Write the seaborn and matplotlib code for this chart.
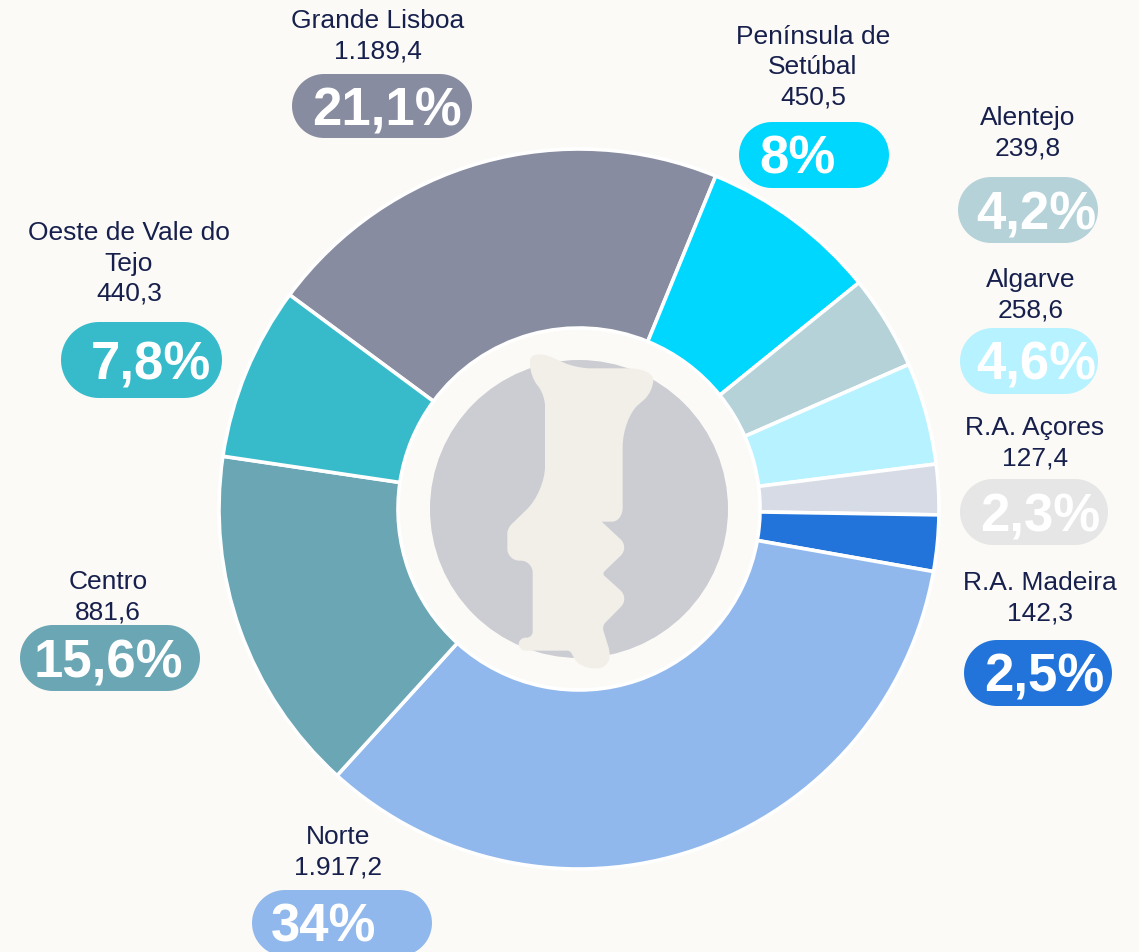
import matplotlib
matplotlib.use("Agg")
import matplotlib.pyplot as plt
from matplotlib.patches import PathPatch, Circle, Polygon
from matplotlib.path import Path
import seaborn as sns
import numpy as np

regions = ["Grande Lisboa", "Península de\nSetúbal", "Alentejo", "Algarve", "R.A. Açores",
           "R.A. Madeira", "Norte", "Centro", "Oeste de Vale do\nTejo"]
values = [1189.4, 450.5, 239.8, 258.6, 127.4, 142.3, 1917.2, 881.6, 440.3]
value_labels = ["1.189,4", "450,5", "239,8", "258,6", "127,4", "142,3", "1.917,2", "881,6", "440,3"]
pct_labels = ["21,1%", "8%", "4,2%", "4,6%", "2,3%", "2,5%", "34%", "15,6%", "7,8%"]
colors = ["#888CA0", "#00D7FF", "#B5D2D9", "#B6F2FF", "#D6DBE6", "#2274DB", "#91B8EC", "#6AA6B4", "#37BBCB"]

BG, INK, MAP, HUB = "#FBFAF6", "#17204C", "#F2EFE9", "#CCCDD3"
W, H = 1139, 953

sns.set_theme(style="white")
plt.rcParams["font.family"] = ["Liberation Sans", "DejaVu Sans"]

fig = plt.figure(figsize=(W / 100, H / 100), dpi=100, facecolor=BG)
ax = fig.add_axes([0, 0, 1, 1])
Y = lambda py: H - py - 1

cx, cy, R, r_in = 579, 509, 360, 181
ax.pie(values, colors=sns.color_palette(colors), center=(cx, Y(cy)), radius=R,
       startangle=143.5, counterclock=False,
       wedgeprops=dict(width=R - r_in, edgecolor="white", linewidth=2.6))
ax.set_xlim(0, W)
ax.set_ylim(0, H)
ax.set_aspect("equal")
ax.axis("off")

ax.add_patch(Circle((cx, Y(cy)), 149, facecolor=HUB, edgecolor="none", zorder=3))

# Decorative map silhouette: corners (zoom px) with a rounding radius
corners = [(328, 22, 75), (470, 85, 40), (700, 85, 70), (700, 155, 36), (608, 235, 85),
           (608, 545, 42), (545, 545, 1), (628, 622, 36), (546, 701, 10), (628, 775, 36),
           (546, 858, 14), (585, 985, 85), (480, 985, 40), (450, 932, 8), (296, 932, 22),
           (296, 893, 22), (338, 893, 18), (338, 662, 36), (262, 662, 36), (262, 565, 16),
           (375, 455, 75), (375, 165, 32), (332, 110, 30)]
pts = [(420 + x / 3, Y(340 + y / 3), rr / 3) for x, y, rr in corners]
verts, codes = [], []
n = len(pts)
k = 0.55
for i in range(n):
    p = np.array(pts[i][:2])
    a = np.array(pts[i - 1][:2])
    b = np.array(pts[(i + 1) % n][:2])
    rr = pts[i][2]
    da, db = a - p, b - p
    s = p + da / np.linalg.norm(da) * min(rr, np.linalg.norm(da) / 2)
    e = p + db / np.linalg.norm(db) * min(rr, np.linalg.norm(db) / 2)
    verts.append(s)
    codes.append(Path.MOVETO if i == 0 else Path.LINETO)
    verts += [s + (p - s) * k, e + (p - e) * k, e]
    codes += [Path.CURVE4] * 3
verts.append(verts[0])
codes.append(Path.CLOSEPOLY)
ax.add_patch(PathPatch(Path(verts, codes), facecolor=MAP, edgecolor="none", zorder=4))


def stadium(x0, x1, y0, y1):
    h = (y1 - y0) / 2
    t = np.linspace(-np.pi / 2, np.pi / 2, 40)
    right = np.c_[x1 - h + h * np.cos(t), (y0 + y1) / 2 + h * np.sin(t)]
    left = np.c_[x0 + h - h * np.cos(t[::-1]), (y0 + y1) / 2 + h * np.sin(t[::-1])]
    return np.r_[right, left]


# Label layout, in reference pixels
label_x = [378, 813, 1028, 1031, 1035, 1040, 338, 108, 129]
label_top = [20, 36, 117, 279, 427, 582, 836, 581, 232]
pills = [(292, 472, 74, 138), (739, 889, 122, 188), (958, 1098, 177, 243), (960, 1098, 328, 394),
         (960, 1108, 479, 545), (964, 1112, 640, 706), (252, 432, 890, 956), (20, 200, 625, 691),
         (61, 222, 322, 398)]
pct_x = [312, 759, 976, 976, 980, 984, 271, 34, 91]

for name, val, pct, col, lx, ly, pill, px in zip(regions, value_labels, pct_labels, colors,
                                                 label_x, label_top, pills, pct_x):
    lines = name.split("\n") + [val]
    for j, line in enumerate(lines):
        ax.text(lx, Y(ly + j * 30.5), line, ha="center", va="center", fontsize=19,
                color=INK, zorder=6)
    x0, x1, y0, y1 = pill
    shape = stadium(x0, x1, Y(y1), Y(y0))
    ax.add_patch(Polygon(shape, closed=True, facecolor="#E6E6E6" if pct == "2,3%" else col,
                         edgecolor="none", zorder=5))
    ax.text(px, Y((y0 + y1) / 2 + 18), pct, ha="left", va="baseline", fontsize=38,
            fontweight="bold", color="white", zorder=6)

fig.savefig("out.png", dpi=100, facecolor=BG)
